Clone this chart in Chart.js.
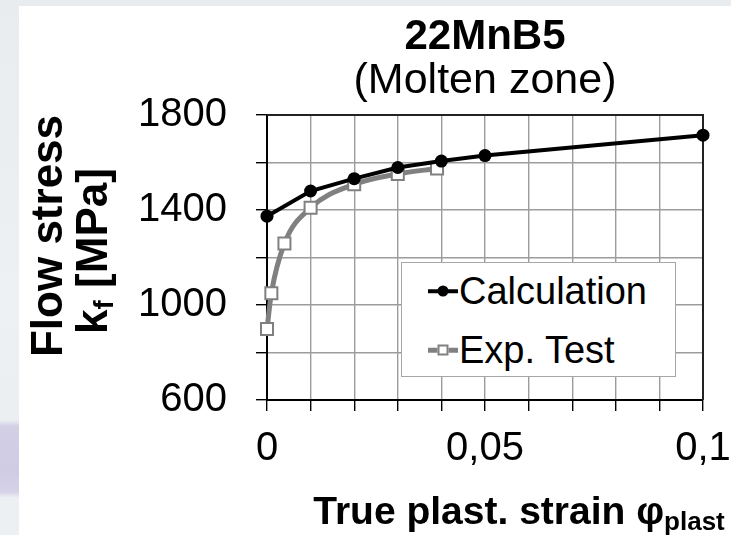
<!DOCTYPE html>
<html>
<head>
<meta charset="utf-8">
<style>
  html, body { margin: 0; padding: 0; }
  body {
    width: 731px; height: 535px; position: relative; overflow: hidden;
    background: linear-gradient(to bottom, #e9ecef 0px, #eef1f3 300px, #eceff2 420px,
      #d3d0e6 426px, #cfcbe3 470px, #d6d3e8 492px, #edf0f3 498px, #edf0f3 535px);
  }
  #panel { position: absolute; left: 19px; top: 6px; right: 0; bottom: 0; background: #fff; }
  #myChart { position: absolute; left: 0; top: 0; }
  #legend {
    position: absolute; left: 401px; top: 262px; width: 273px; height: 113px;
    border: 1px solid #a6a6a6; background: #fff;
    font-family: "Liberation Sans", Arial, sans-serif; font-size: 38px; color: #000;
  }
  .row { position: absolute; left: 26px; height: 44px; display: flex; align-items: center; }
  .mark { position: relative; width: 30px; height: 44px; margin-right: 1px; }
  .mark .ln { position: absolute; left: 0; right: 0; top: 50%; transform: translateY(-50%); }
  .mark .pt { position: absolute; left: 50%; top: 50%; transform: translate(-50%, -50%); box-sizing: border-box; }
</style>
</head>
<body>
<div id="panel"></div>
<canvas id="myChart" width="731" height="535"></canvas>
<div id="legend"></div>

<script src="https://cdn.jsdelivr.net/npm/chart.js"></script>
<script>
    // values
    const strainCalc = [0, 0.01, 0.02, 0.03, 0.04, 0.05, 0.1];
    const stressCalc = [1374, 1480, 1532, 1579, 1606, 1629, 1715];

    const strainExp = [0, 0.001, 0.004, 0.01, 0.02, 0.03, 0.039];
    const stressExp = [899, 1049, 1259, 1409, 1508, 1552, 1575];

    const xTickValues = [0, 0.05, 0.1];
    const xTickText = ['0', '0,05', '0,1'];
    const yTickValues = [600, 1000, 1400, 1800];

    const FONT = '"Liberation Sans", Arial, sans-serif';

    function toPoints(xs, ys) {
        return xs.map((x, i) => ({ x: x, y: ys[i] }));
    }

    // draws main text + subscript + rest, centred on cx
    function drawSubText(ctx, main, sub, rest, cx, baseline, size, subSize, drop) {
        const big = 'bold ' + size + 'px ' + FONT;
        const small = 'bold ' + subSize + 'px ' + FONT;
        ctx.font = big;
        const w1 = ctx.measureText(main).width;
        const w3 = ctx.measureText(rest).width;
        ctx.font = small;
        const w2 = ctx.measureText(sub).width;
        let x = cx - (w1 + w2 + w3) / 2;
        ctx.textAlign = 'left';
        ctx.textBaseline = 'alphabetic';
        ctx.font = big;
        ctx.fillText(main, x, baseline);
        x += w1;
        ctx.font = small;
        ctx.fillText(sub, x, baseline + drop);
        x += w2;
        ctx.font = big;
        ctx.fillText(rest, x, baseline);
    }

    const axisTitles = {
        id: 'axisTitles',
        afterDraw(chart) {
            const ctx = chart.ctx;
            ctx.save();
            ctx.fillStyle = '#000';
            drawSubText(ctx, 'True plast. strain φ', 'plast', '', 519, 524, 39, 26, 6);

            ctx.save();
            ctx.translate(62, 236);
            ctx.rotate(-Math.PI / 2);
            drawSubText(ctx, 'Flow stress', '', '', 0, 0, 44, 28, 0);
            ctx.restore();

            ctx.save();
            ctx.translate(107, 251);
            ctx.rotate(-Math.PI / 2);
            drawSubText(ctx, 'k', 'f', ' [MPa]', 0, 0, 44, 28, 6);
            ctx.restore();
            ctx.restore();
        }
    };

    // dark frame round the plot area, under the lines
    const plotFrame = {
        id: 'plotFrame',
        beforeDatasetsDraw(chart) {
            const a = chart.chartArea;
            const ctx = chart.ctx;
            ctx.save();
            ctx.strokeStyle = '#222';
            ctx.lineWidth = 2;
            ctx.beginPath();
            ctx.moveTo(a.left, a.top);
            ctx.lineTo(a.right, a.top);
            ctx.lineTo(a.right, a.bottom);
            ctx.stroke();
            ctx.restore();
        }
    };

    function buildLegend(chart) {
        const box = document.getElementById('legend');
        box.innerHTML = '';
        chart.data.datasets.forEach((ds, i) => {
            const row = document.createElement('div');
            row.className = 'row';
            row.style.top = (6 + i * 59) + 'px';
            const mark = document.createElement('div');
            mark.className = 'mark';
            const ln = document.createElement('div');
            ln.className = 'ln';
            ln.style.height = (ds.borderWidth - 0.5) + 'px';
            ln.style.background = ds.borderColor;
            const pt = document.createElement('div');
            pt.className = 'pt';
            pt.style.width = '11px';
            pt.style.height = '11px';
            pt.style.background = ds.pointBackgroundColor;
            if (ds.pointStyle === 'rect') {
                pt.style.border = '2px solid ' + ds.pointBorderColor;
            } else {
                pt.style.borderRadius = '50%';
            }
            mark.appendChild(ln);
            mark.appendChild(pt);
            const txt = document.createElement('span');
            txt.textContent = ds.label;
            row.appendChild(mark);
            row.appendChild(txt);
            box.appendChild(row);
        });
    }

    document.addEventListener('DOMContentLoaded', function() {
        const ctx = document.getElementById('myChart').getContext('2d');

        const chart = new Chart(ctx, {
            type: 'line',
            data: {
                datasets: [
                    {
                        label: 'Calculation',
                        data: toPoints(strainCalc, stressCalc),
                        borderColor: '#000',
                        borderWidth: 4,
                        pointStyle: 'circle',
                        pointRadius: 6.5,
                        pointBackgroundColor: '#000',
                        pointBorderColor: '#000',
                        pointBorderWidth: 0,
                        tension: 0,
                        clip: false
                    },
                    {
                        label: 'Exp. Test',
                        data: toPoints(strainExp, stressExp),
                        borderColor: '#808080',
                        borderWidth: 5,
                        pointStyle: 'rect',
                        pointRadius: 8.5,
                        pointBackgroundColor: '#fff',
                        pointBorderColor: '#808080',
                        pointBorderWidth: 2,
                        cubicInterpolationMode: 'monotone',
                        clip: false
                    }
                ]
            },
            options: {
                responsive: false,
                animation: false,
                devicePixelRatio: 1,
                layout: { padding: 0 },
                plugins: {
                    legend: { display: false },
                    tooltip: { enabled: false },
                    title: {
                        display: true,
                        fullSize: false,
                        text: '22MnB5',
                        color: '#000',
                        font: { family: FONT, size: 42, weight: 'bold', lineHeight: 1 },
                        padding: { top: 16, bottom: 0 }
                    },
                    subtitle: {
                        display: true,
                        fullSize: false,
                        text: '(Molten zone)',
                        color: '#000',
                        font: { family: FONT, size: 43, weight: 'normal', lineHeight: 1 },
                        padding: { top: 1.5, bottom: 12.5 }
                    }
                },
                scales: {
                    x: {
                        type: 'linear',
                        min: 0,
                        max: 0.1,
                        afterFit: s => { s.height = 135; s.paddingLeft = 0; s.paddingRight = 28; },
                        ticks: {
                            stepSize: 0.01,
                            autoSkip: false,
                            maxRotation: 0,
                            padding: 14,
                            color: '#000',
                            font: { family: FONT, size: 40 },
                            callback: v => {
                                const i = xTickValues.findIndex(t => Math.abs(t - v) < 1e-9);
                                return i >= 0 ? xTickText[i] : '';
                            }
                        },
                        grid: {
                            color: '#9c9c9c',
                            lineWidth: 1.4,
                            tickColor: '#000',
                            tickLength: 11,
                            tickWidth: 1.4
                        },
                        border: { color: '#000', width: 2 }
                    },
                    y: {
                        type: 'linear',
                        min: 600,
                        max: 1800,
                        afterFit: s => { s.width = 267; s.paddingTop = 0; s.paddingBottom = 0; },
                        ticks: {
                            stepSize: 200,
                            autoSkip: false,
                            padding: 29,
                            color: '#000',
                            font: { family: FONT, size: 40 },
                            callback: v => (yTickValues.includes(v) ? String(v) : '')
                        },
                        grid: {
                            color: '#9c9c9c',
                            lineWidth: 1.4,
                            tickColor: '#000',
                            tickLength: 11,
                            tickWidth: 1.4
                        },
                        border: { color: '#000', width: 2 }
                    }
                }
            },
            plugins: [plotFrame, axisTitles]
        });

        buildLegend(chart);
    });
</script>
</body>
</html>
